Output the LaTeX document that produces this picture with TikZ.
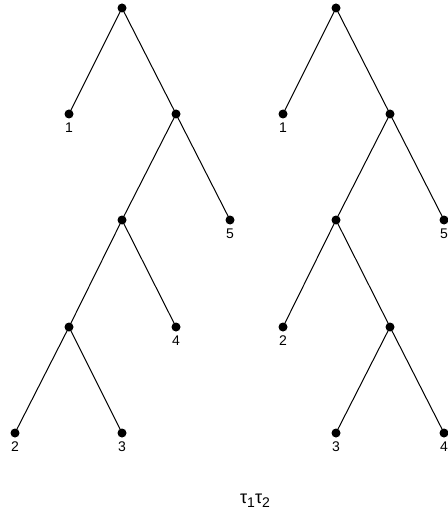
\documentclass[tikz,border=0pt]{standalone}
\usepackage{fontspec}
\setmainfont{Liberation Sans}
\begin{document}
\begin{tikzpicture}[x=1pt,y=-1pt,
  dot/.style={circle,fill=black,inner sep=0pt,minimum size=9pt},
  lbl/.style={font=\fontsize{14}{16}\selectfont,inner sep=0pt},
  edge/.style={line width=1pt}]
\useasboundingbox (0,0) rectangle (447,521);
% left tree
\node[dot] (lr) at (122,8) {};
\node[dot] (l1) at (69,114) {};
\node[dot] (la) at (176,114) {};
\node[dot] (lb) at (122,220) {};
\node[dot] (l5) at (230,220) {};
\node[dot] (lc) at (69,327) {};
\node[dot] (l4) at (176,327) {};
\node[dot] (l2) at (15,433) {};
\node[dot] (l3) at (122,433) {};
\draw[edge] (lr.center) -- (l1.center);
\draw[edge] (lr.center) -- (la.center);
\draw[edge] (la.center) -- (lb.center);
\draw[edge] (la.center) -- (l5.center);
\draw[edge] (lb.center) -- (lc.center);
\draw[edge] (lb.center) -- (l4.center);
\draw[edge] (lc.center) -- (l2.center);
\draw[edge] (lc.center) -- (l3.center);
\node[lbl] (tl1) at (69,128) {1};
\node[lbl] (tl5) at (230,234) {5};
\node[lbl] (tl4) at (176,341) {4};
\node[lbl] (tl2) at (15,447) {2};
\node[lbl] (tl3) at (122,447) {3};
% right tree
\node[dot] (rr) at (336,8) {};
\node[dot] (r1) at (283,114) {};
\node[dot] (ra) at (390,114) {};
\node[dot] (rb) at (336,220) {};
\node[dot] (r5) at (444,220) {};
\node[dot] (r2) at (283,327) {};
\node[dot] (rc) at (390,327) {};
\node[dot] (r3) at (336,433) {};
\node[dot] (r4) at (444,433) {};
\draw[edge] (rr.center) -- (r1.center);
\draw[edge] (rr.center) -- (ra.center);
\draw[edge] (ra.center) -- (rb.center);
\draw[edge] (ra.center) -- (r5.center);
\draw[edge] (rb.center) -- (r2.center);
\draw[edge] (rb.center) -- (rc.center);
\draw[edge] (rc.center) -- (r3.center);
\draw[edge] (rc.center) -- (r4.center);
\node[lbl] (tr1) at (283,128) {1};
\node[lbl] (tr5) at (444,234) {5};
\node[lbl] (tr2) at (283,341) {2};
\node[lbl] (tr3) at (336,447) {3};
\node[lbl] (tr4) at (444,447) {4};
\node[lbl,font=\fontsize{18}{20}\selectfont] (cap) at (255,501) {τ\raisebox{-0.45ex}{\fontsize{14}{16}\selectfont 1}τ\raisebox{-0.45ex}{\fontsize{14}{16}\selectfont 2}};
\end{tikzpicture}
\end{document}
